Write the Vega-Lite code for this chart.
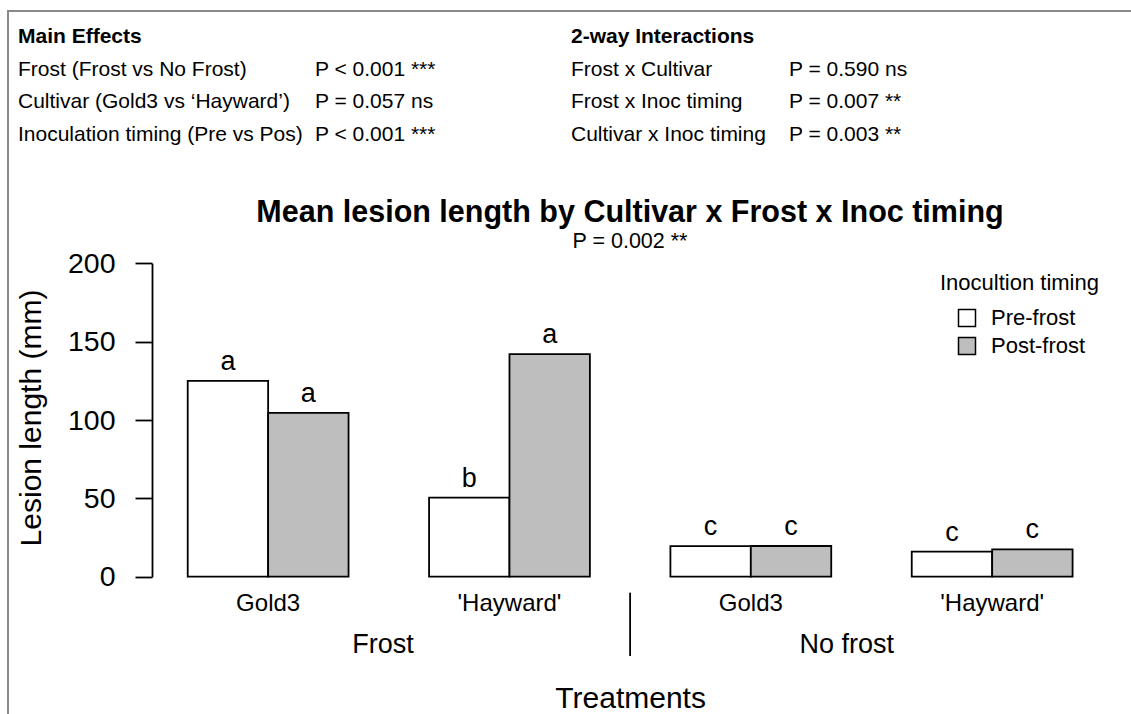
{
  "$schema": "https://vega.github.io/schema/vega-lite/v6.json",
  "width": 1126,
  "height": 706,
  "autosize": {"type": "none"},
  "padding": {"left": 8, "top": 11, "right": -3, "bottom": -3},
  "background": "white",
  "view": {"stroke": "#8a8a8a", "strokeWidth": 2},
  "config": {
    "font": "Liberation Sans",
    "text": {"font": "Liberation Sans", "color": "black"},
    "axis": {"labelFont": "Liberation Sans", "titleFont": "Liberation Sans"},
    "legend": {"labelFont": "Liberation Sans", "titleFont": "Liberation Sans"}
  },
  "title": {
    "text": "Mean lesion length by Cultivar x Frost x Inoc timing",
    "subtitle": "P = 0.002 **",
    "anchor": "middle",
    "frame": "group",
    "dx": 59,
    "dy": 245,
    "font": "Liberation Sans",
    "fontSize": 30.5,
    "fontWeight": "bold",
    "color": "black",
    "subtitleFont": "Liberation Sans",
    "subtitleFontSize": 21.5,
    "subtitleColor": "black",
    "subtitlePadding": 2
  },
  "datasets": {
    "lesions": [
      {"frost": "Frost", "cultivar": "Gold3", "group": "Frost | Gold3", "timing": "Pre-frost", "length": 125, "letter": "a"},
      {"frost": "Frost", "cultivar": "Gold3", "group": "Frost | Gold3", "timing": "Post-frost", "length": 104.5, "letter": "a"},
      {"frost": "Frost", "cultivar": "'Hayward'", "group": "Frost | 'Hayward'", "timing": "Pre-frost", "length": 50.5, "letter": "b"},
      {"frost": "Frost", "cultivar": "'Hayward'", "group": "Frost | 'Hayward'", "timing": "Post-frost", "length": 142, "letter": "a"},
      {"frost": "No frost", "cultivar": "Gold3", "group": "No frost | Gold3", "timing": "Pre-frost", "length": 19.5, "letter": "c"},
      {"frost": "No frost", "cultivar": "Gold3", "group": "No frost | Gold3", "timing": "Post-frost", "length": 19.6, "letter": "c"},
      {"frost": "No frost", "cultivar": "'Hayward'", "group": "No frost | 'Hayward'", "timing": "Pre-frost", "length": 16, "letter": "c"},
      {"frost": "No frost", "cultivar": "'Hayward'", "group": "No frost | 'Hayward'", "timing": "Post-frost", "length": 17.5, "letter": "c"}
    ],
    "effects": [
      {"section": "Main Effects", "row": 1, "term": "Frost (Frost vs No Frost)", "p": "P < 0.001 ***"},
      {"section": "Main Effects", "row": 2, "term": "Cultivar (Gold3 vs \u2018Hayward\u2019)", "p": "P = 0.057 ns"},
      {"section": "Main Effects", "row": 3, "term": "Inoculation timing (Pre vs Pos)", "p": "P < 0.001 ***"},
      {"section": "2-way Interactions", "row": 1, "term": "Frost x Cultivar", "p": "P = 0.590 ns"},
      {"section": "2-way Interactions", "row": 2, "term": "Frost x Inoc timing", "p": "P = 0.007 **"},
      {"section": "2-way Interactions", "row": 3, "term": "Cultivar x Inoc timing", "p": "P = 0.003 **"}
    ],
    "sections": [
      {"section": "Main Effects", "row": 0},
      {"section": "2-way Interactions", "row": 0}
    ]
  },
  "layer": [
    {
      "layer": [
        {
          "data": {"name": "lesions"},
          "mark": {"type": "bar", "stroke": "black", "strokeWidth": 1.8},
          "encoding": {
            "x": {
              "field": "group",
              "type": "nominal",
              "scale": {
                "domain": ["Frost | Gold3", "Frost | 'Hayward'", "No frost | Gold3", "No frost | 'Hayward'"],
                "range": [144, 1100.3],
                "paddingInner": 0.3336,
                "paddingOuter": 0.148
              },
              "axis": {
                "offset": -140.3,
                "domain": false,
                "ticks": false,
                "tickSize": 0,
                "grid": false,
                "labelPadding": 33.3,
                "labelBaseline": "alphabetic",
                "labelFontSize": 24,
                "labelColor": "black",
                "labelAngle": 0,
                "labelExpr": "split(datum.label, ' | ')[1]",
                "title": "Treatments",
                "titleFontSize": 30,
                "titleFontWeight": "normal",
                "titleColor": "black",
                "titleY": 131,
                "titleBaseline": "alphabetic"
              }
            },
            "xOffset": {
              "field": "timing",
              "type": "nominal",
              "scale": {"domain": ["Pre-frost", "Post-frost"], "paddingInner": 0, "paddingOuter": 0}
            },
            "y": {
              "field": "length",
              "type": "quantitative",
              "scale": {"domain": [0, 200], "range": [565.7, 252.3], "nice": false},
              "axis": {
                "values": [0, 50, 100, 150, 200],
                "offset": -144,
                "grid": false,
                "domainColor": "black",
                "domainWidth": 1.8,
                "tickColor": "black",
                "tickWidth": 1.8,
                "tickSize": 17,
                "labelFontSize": 28.5,
                "labelColor": "black",
                "labelPadding": 20,
                "labelFlush": false,
                "labelOverlap": false,
                "title": "Lesion length (mm)",
                "titleFontSize": 30,
                "titleFontWeight": "normal",
                "titleColor": "black",
                "titleX": -121,
                "titleY": 406.5,
                "titleAngle": -90,
                "titleAlign": "center",
                "titleBaseline": "middle"
              }
            },
            "fill": {
              "field": "timing",
              "type": "nominal",
              "scale": {"domain": ["Pre-frost", "Post-frost"], "range": ["white", "#bebebe"]},
              "legend": {
                "title": "Inocultion timing",
                "orient": "none",
                "legendX": 932,
                "legendY": 262,
                "titleFontSize": 22,
                "titleFontWeight": "normal",
                "titleColor": "black",
                "titlePadding": 12,
                "labelFontSize": 22,
                "labelColor": "black",
                "symbolType": "square",
                "symbolSize": 289,
                "symbolStrokeColor": "black",
                "symbolStrokeWidth": 1.5,
                "symbolOffset": 16,
                "labelOffset": 13,
                "rowPadding": 4
              }
            }
          }
        },
        {
          "data": {"name": "lesions"},
          "mark": {"type": "text", "dy": -11, "baseline": "alphabetic", "align": "center", "fontSize": 27, "color": "black"},
          "encoding": {
            "x": {"field": "group", "type": "nominal"},
            "xOffset": {"field": "timing", "type": "nominal"},
            "y": {"field": "length", "type": "quantitative"},
            "text": {"field": "letter"}
          }
        },
        {
          "data": {"values": [{"group": "Frost | 'Hayward'"}]},
          "mark": {"type": "rule", "color": "black", "strokeWidth": 1.8},
          "encoding": {
            "x": {"field": "group", "type": "nominal", "bandPosition": 1.25},
            "y": {"datum": -10.2},
            "y2": {"datum": -50.6}
          }
        },
        {
          "data": {"values": [{"group": "Frost | Gold3", "label": "Frost"}]},
          "mark": {"type": "text", "baseline": "alphabetic", "align": "center", "fontSize": 27, "color": "black"},
          "encoding": {
            "x": {"field": "group", "type": "nominal", "bandPosition": 1.214},
            "y": {"datum": -48.9},
            "text": {"field": "label"}
          }
        },
        {
          "data": {"values": [{"group": "No frost | Gold3", "label": "No frost"}]},
          "mark": {"type": "text", "baseline": "alphabetic", "align": "center", "fontSize": 27, "color": "black"},
          "encoding": {
            "x": {"field": "group", "type": "nominal", "bandPosition": 1.097},
            "y": {"datum": -48.9},
            "text": {"field": "label"}
          }
        }
      ]
    },
    {
      "data": {"name": "sections"},
      "mark": {"type": "text", "fontSize": 21, "fontWeight": "bold", "align": "left", "baseline": "middle", "color": "black"},
      "encoding": {
        "x": {"field": "section", "type": "nominal", "scale": {"type": "point", "domain": ["Main Effects", "2-way Interactions"], "range": [10, 563], "padding": 0}, "axis": null},
        "y": {"field": "row", "type": "ordinal", "scale": {"type": "point", "domain": [0, 1, 2, 3], "range": [26, 124], "padding": 0}, "axis": null},
        "text": {"field": "section"}
      }
    },
    {
      "data": {"name": "effects"},
      "mark": {"type": "text", "fontSize": 21, "align": "left", "baseline": "middle", "color": "black"},
      "encoding": {
        "x": {"field": "section", "type": "nominal", "scale": {"type": "point", "domain": ["Main Effects", "2-way Interactions"], "range": [10, 563], "padding": 0}, "axis": null},
        "y": {"field": "row", "type": "ordinal", "scale": {"type": "point", "domain": [0, 1, 2, 3], "range": [26, 124], "padding": 0}, "axis": null},
        "text": {"field": "term"}
      }
    },
    {
      "data": {"name": "effects"},
      "mark": {"type": "text", "fontSize": 21, "align": "left", "baseline": "middle", "color": "black"},
      "encoding": {
        "x": {"field": "section", "type": "nominal", "scale": {"type": "point", "domain": ["Main Effects", "2-way Interactions"], "range": [307, 781], "padding": 0}, "axis": null},
        "y": {"field": "row", "type": "ordinal", "scale": {"type": "point", "domain": [0, 1, 2, 3], "range": [26, 124], "padding": 0}, "axis": null},
        "text": {"field": "p"}
      }
    }
  ],
  "resolve": {"scale": {"x": "independent", "y": "independent"}}
}
